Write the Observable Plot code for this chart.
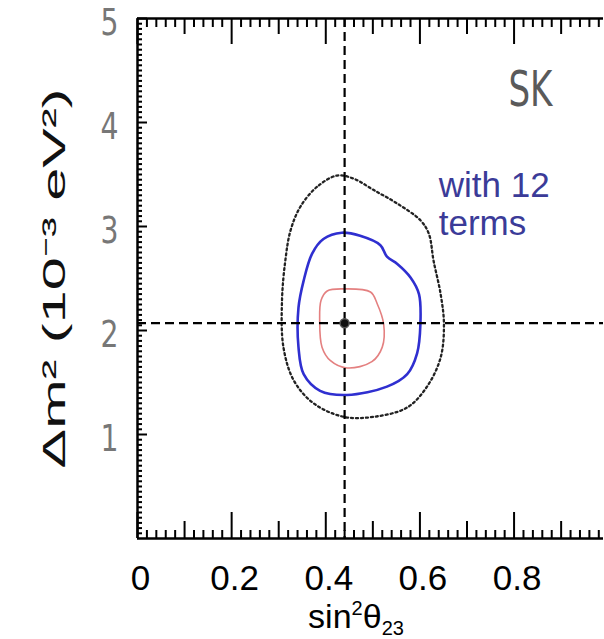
<!DOCTYPE html>
<html><head><meta charset="utf-8">
<script src="https://cdn.jsdelivr.net/npm/d3@7"></script>
<script src="https://cdn.jsdelivr.net/npm/@observablehq/plot@0.6"></script>
<style>body{margin:0;background:#fff} svg{display:block;background:#fff}</style>
</head><body><div id="chart"></div>
<script>
// ---- tick values ----
const xTickLabels = [0, 0.2, 0.4, 0.6, 0.8];
const xMidTicks = [0.1, 0.3, 0.5, 0.7, 0.9];
const xMinorTicks = d3.range(0, 100, 2).map(d => d / 100).filter(d => Math.round(d * 100) % 10 !== 0);
const yTickLabels = [1, 2, 3, 4, 5];
const yMinorTicks = d3.range(0, 500, 5).map(d => d / 100).filter(d => Math.round(d * 100) % 100 !== 0);

// ---- best fit point ----
const bestFit = [[0.44, 2.07]];

// ---- contours [sin^2 theta23, dm^2 (1e-3 eV^2)] ----
const contourOuter = [
  [0.424, 3.49], [0.381, 3.38], [0.346, 3.19], [0.325, 2.96], [0.314, 2.67], [0.307, 2.29],
  [0.310, 1.84], [0.332, 1.52], [0.374, 1.30], [0.438, 1.17], [0.502, 1.17], [0.573, 1.26],
  [0.615, 1.46], [0.644, 1.74], [0.651, 2.06], [0.644, 2.35], [0.629, 2.67], [0.619, 2.93],
  [0.601, 3.06], [0.552, 3.22], [0.502, 3.35], [0.459, 3.46]
];
const contourMiddle = [
  [0.434, 2.94], [0.473, 2.91], [0.516, 2.82], [0.530, 2.71], [0.552, 2.64], [0.580, 2.51],
  [0.598, 2.35], [0.601, 2.06], [0.594, 1.78], [0.573, 1.58], [0.530, 1.46], [0.445, 1.38],
  [0.388, 1.42], [0.353, 1.58], [0.342, 1.84], [0.342, 2.22], [0.353, 2.48], [0.371, 2.74],
  [0.395, 2.88]
];
const contourInner = [
  [0.438, 2.40], [0.495, 2.37], [0.509, 2.26], [0.523, 2.06], [0.520, 1.84], [0.498, 1.70],
  [0.445, 1.64], [0.410, 1.71], [0.392, 1.84], [0.387, 2.10], [0.390, 2.29], [0.403, 2.38]
];

// ---- texts ----
const xLabelParts = ["sin", "2", "θ", "23"];
const yLabel = "Δm² (10⁻³ eV²)";
const expLabel = ["SK"];
const noteLabel = ["with 12\nterms"];

const narrow = "'Liberation Sans Narrow', 'DejaVu Sans Condensed', 'Liberation Sans', sans-serif";
const sans = "'Liberation Sans', Arial, Helvetica, sans-serif";
const fmt = d => String(d);

const svg = Plot.plot({
  width: 604,
  height: 639,
  marginLeft: 137,
  marginRight: 1,
  marginTop: 18,
  marginBottom: 101,
  x: {domain: [0, 0.99]},
  y: {domain: [0, 5]},
  style: {background: "#fff", fontFamily: sans},
  marks: [
    // inward ticks - bottom
    Plot.axisX({anchor: "bottom", ticks: xMinorTicks, tickSize: -8, strokeWidth: 2, tickFormat: () => "", label: null}),
    Plot.axisX({anchor: "bottom", ticks: xMidTicks, tickSize: -17, strokeWidth: 2, tickFormat: () => "", label: null}),
    Plot.axisX({anchor: "bottom", ticks: xTickLabels, tickSize: -26, strokeWidth: 2, tickFormat: () => "", label: null}),
    // inward ticks - top
    Plot.axisX({anchor: "top", ticks: xMinorTicks, tickSize: -8, strokeWidth: 2, tickFormat: () => "", label: null}),
    Plot.axisX({anchor: "top", ticks: xMidTicks, tickSize: -15, strokeWidth: 2, tickFormat: () => "", label: null}),
    Plot.axisX({anchor: "top", ticks: xTickLabels, tickSize: -25, strokeWidth: 2, tickFormat: () => "", label: null}),
    // inward ticks - left
    Plot.axisY({anchor: "left", ticks: yMinorTicks, tickSize: -5, strokeWidth: 2, tickFormat: () => "", label: null}),
    Plot.axisY({anchor: "left", ticks: yTickLabels, tickSize: -10, strokeWidth: 2, tickFormat: () => "", label: null}),
    // tick labels
    Plot.axisX({anchor: "bottom", ticks: xTickLabels, tickSize: 0, tickPadding: 27, dx: 3, fontSize: 35, fill: "#000", label: null, fontFamily: sans, tickFormat: fmt}),
    Plot.axisY({anchor: "left", ticks: yTickLabels, tickSize: 0, tickPadding: 19, dy: 4, fontSize: 38, fill: "#777", label: null, fontFamily: narrow, tickFormat: fmt}),
    // frame (left, top, bottom)
    Plot.ruleX([0], {stroke: "#000", strokeWidth: 2.5}),
    Plot.ruleY([0, 5], {stroke: "#000", strokeWidth: 2.5}),
    // contours
    Plot.line(contourOuter, {curve: "catmull-rom-closed", stroke: "#222", strokeWidth: 2.3, strokeDasharray: "2,3"}),
    Plot.line(contourMiddle, {curve: "catmull-rom-closed", stroke: "#2f2fd0", strokeWidth: 2.6}),
    Plot.line(contourInner, {curve: "catmull-rom-closed", stroke: "#e48080", strokeWidth: 1.6}),
    // best fit crosshair
    Plot.ruleY(bestFit, {y: d => d[1], stroke: "#000", strokeWidth: 2.2, strokeDasharray: "9,5"}),
    Plot.ruleX(bestFit, {x: d => d[0], stroke: "#000", strokeWidth: 2.2, strokeDasharray: "9,5"}),
    Plot.dot(bestFit, {r: 4.5, fill: "#111", stroke: "#555", strokeWidth: 1.5}),
    // annotations
    Plot.text(expLabel, {x: () => 0.788, y: () => 4.5, text: d => d, textAnchor: "start", lineAnchor: "top", fontSize: 50, fill: "#5a5a5a", fontFamily: narrow}),
    Plot.text(noteLabel, {x: () => 0.64, y: () => 3.54, text: d => d, textAnchor: "start", lineAnchor: "top", fontSize: 35, lineHeight: 1.08, fill: "#3b3b98", fontFamily: sans}),
    Plot.text([yLabel], {frameAnchor: "left", rotate: -90, dx: -73, text: d => d, textAnchor: "middle", lineAnchor: "bottom", fontSize: 32, fill: "#111", fontFamily: sans})
  ]
});

const root = d3.select(svg);
root.selectAll("text").filter(function() { return this.textContent === "SK"; })
  .attr("textLength", 44).attr("lengthAdjust", "spacingAndGlyphs");
root.selectAll("text").filter(function() { return this.textContent === yLabel; })
  .attr("textLength", 380).attr("lengthAdjust", "spacingAndGlyphs");
// condensed gray y tick labels
root.selectAll("g[aria-label='y-axis tick label'] text")
  .attr("textLength", 18).attr("lengthAdjust", "spacingAndGlyphs");

// x-axis title with super/subscripts
const xt = root.append("text")
  .attr("x", 356).attr("y", 628)
  .attr("text-anchor", "middle")
  .attr("font-family", sans)
  .attr("font-size", 34)
  .attr("fill", "#000");
xt.append("tspan").text(xLabelParts[0]);
xt.append("tspan").attr("font-size", 20).attr("dy", -13).text(xLabelParts[1]);
xt.append("tspan").attr("dy", 13).text(xLabelParts[2]);
xt.append("tspan").attr("font-size", 20).attr("dy", 7).text(xLabelParts[3]);

document.getElementById("chart").appendChild(svg);
</script>
</body></html>
